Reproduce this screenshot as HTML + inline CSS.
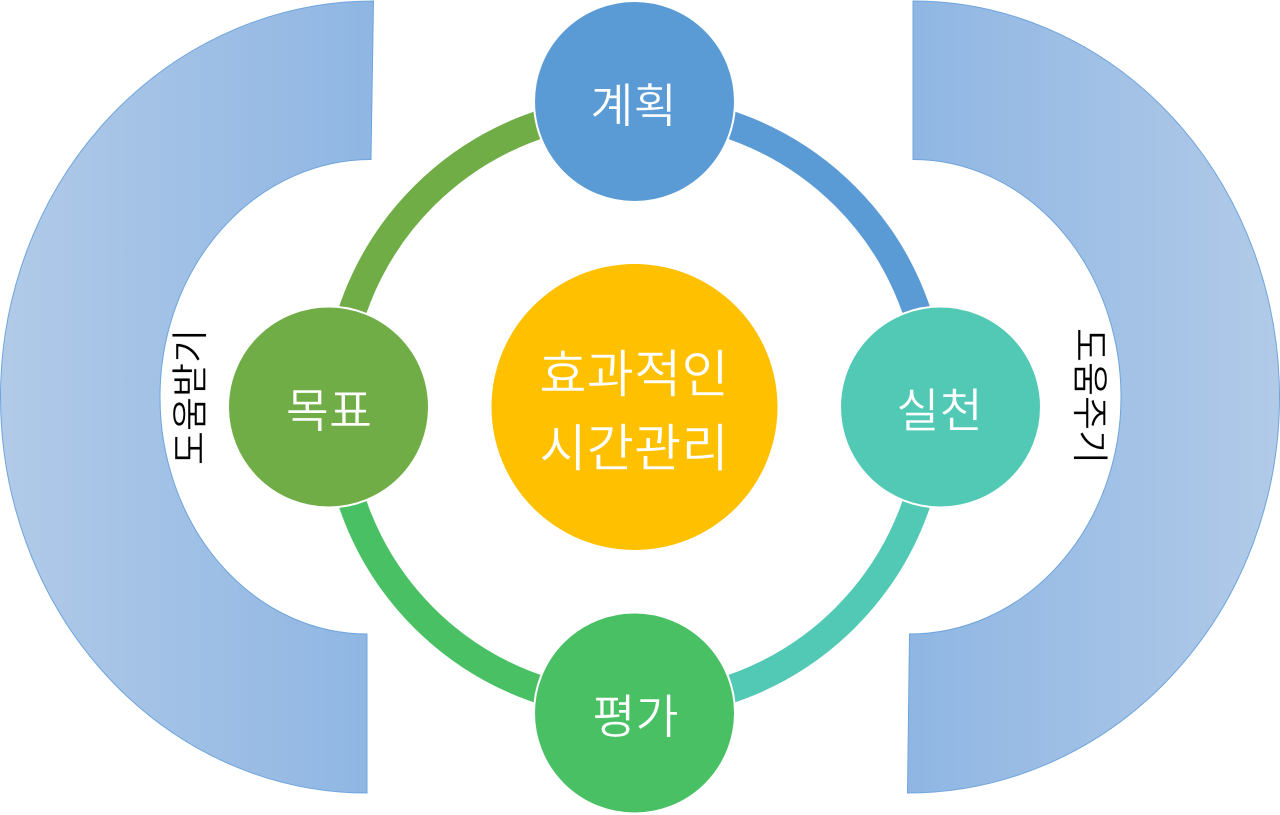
<!DOCTYPE html>
<html lang="ko">
<head>
<meta charset="utf-8">
<style>
html,body{margin:0;padding:0;background:#fff;width:1280px;height:815px;overflow:hidden}
svg{display:block}
text{font-family:"Liberation Sans","Noto Sans CJK KR","NanumGothic",sans-serif;text-anchor:middle}
.w{fill:#fff;stroke-width:.5}
.k{fill:#000;stroke:#fff;stroke-width:.35}
</style>
</head>
<body>
<svg width="1280" height="815" viewBox="0 0 1280 815" xmlns="http://www.w3.org/2000/svg">
<defs>
<linearGradient id="gl" x1="0" x2="1" y1="0" y2="0">
<stop offset="0" stop-color="#B1CAE8"/>
<stop offset="1" stop-color="#8FB6E3"/>
</linearGradient>
<linearGradient id="gr" x1="0" x2="1" y1="0" y2="0">
<stop offset="0" stop-color="#8FB6E3"/>
<stop offset="1" stop-color="#B1CAE8"/>
</linearGradient>
</defs>

<path d="M373.500,1 L371,159.500 A211,237.500 0 0 0 160,397 A207,237 0 0 0 367,634 L367,793 A366.500,396 0 0 1 0.500,397 A373,396 0 0 1 373.500,1 Z" fill="url(#gl)" stroke="#6FA5DC" stroke-width="1"/>
<path d="M913,1 L913,159.500 A208,237.500 0 0 1 1121,397 A211.500,237 0 0 1 909.500,634 L907.500,793 A372,396 0 0 0 1279.500,397 A366.500,396 0 0 0 913,1 Z" fill="url(#gr)" stroke="#6FA5DC" stroke-width="1"/>

<g fill="none" stroke-width="28">
<path d="M634.500,109 A298,298 0 0 1 932.500,407" stroke="#5B9BD5"/>
<path d="M932.500,407 A298,298 0 0 1 634.500,705" stroke="#52C9B5"/>
<path d="M634.500,705 A298,298 0 0 1 336.500,407" stroke="#4AC064"/>
<path d="M336.500,407 A298,298 0 0 1 634.500,109" stroke="#70AD47"/>
</g>

<circle cx="634.500" cy="101.500" r="100.500" fill="#5B9BD5" stroke="#fff" stroke-width="2"/>
<circle cx="940.500" cy="407" r="100.500" fill="#52C9B5" stroke="#fff" stroke-width="2"/>
<circle cx="634.500" cy="713" r="100.500" fill="#4AC064" stroke="#fff" stroke-width="2"/>
<circle cx="328.500" cy="407" r="100.500" fill="#70AD47" stroke="#fff" stroke-width="2"/>
<circle cx="634.500" cy="407" r="143" fill="#FFC000"/>

<text class="w" stroke="#5B9BD5" x="633.500" y="122.500" font-size="47">계획</text>
<text class="w" stroke="#52C9B5" x="939.500" y="427.500" font-size="47">실천</text>
<text class="w" stroke="#4AC064" x="635.500" y="733.500" font-size="47">평가</text>
<text class="w" stroke="#70AD47" x="329" y="427.500" font-size="47">목표</text>
<text class="w" stroke="#FFC000" x="634" y="392.500" font-size="51.500">효과적인</text>
<text class="w" stroke="#FFC000" x="634" y="466.500" font-size="51.500">시간관리</text>

<text class="k" transform="translate(203,397) rotate(-90)" font-size="37">도움받기</text>
<text class="k" transform="translate(1077,396) rotate(90)" font-size="37">도움주기</text>
</svg>
</body>
</html>
